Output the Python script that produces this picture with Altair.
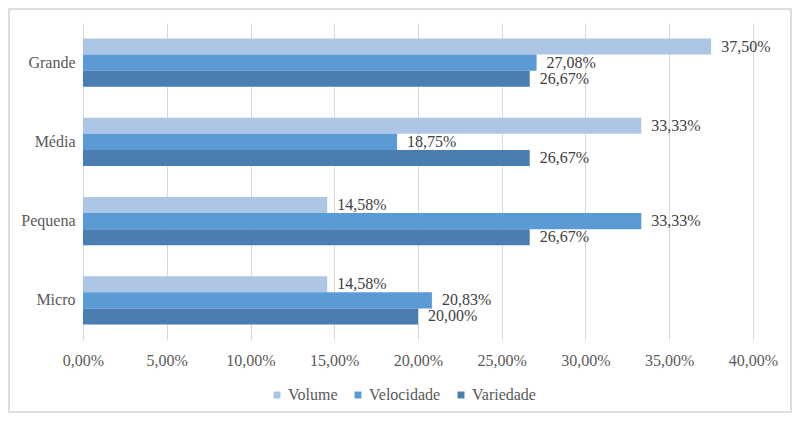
import altair as alt
import pandas as pd

categories = ["Grande", "Média", "Pequena", "Micro"]
series_names = ["Volume", "Velocidade", "Variedade"]
volume = [0.3750, 0.3333, 0.1458, 0.1458]
velocidade = [0.2708, 0.1875, 0.3333, 0.2083]
variedade = [0.2667, 0.2667, 0.2667, 0.2000]
colors = ["#aec6e6", "#5b9bd5", "#4a7eb0"]
x_ticks = [0, 0.05, 0.10, 0.15, 0.20, 0.25, 0.30, 0.35, 0.40]

rows = []
for s, vals in zip(series_names, [volume, velocidade, variedade]):
    for c, v in zip(categories, vals):
        rows.append({"cat": c, "series": s, "val": v,
                     "label": f"{v*100:.2f}%".replace(".", ",")})
df = pd.DataFrame(rows)

FONT = "'Liberation Serif', 'Times New Roman', 'DejaVu Serif', serif"

base = alt.Chart(df)

y = alt.Y("cat:N", sort=categories,
          scale=alt.Scale(paddingInner=0.394, paddingOuter=0.197),
          axis=alt.Axis(title=None, domain=False, ticks=False, labelPadding=8,
                        labelFontSize=16, labelFont=FONT, labelColor="#595959"))
x = alt.X("val:Q", scale=alt.Scale(domain=[0, 0.4], nice=False),
          axis=alt.Axis(title=None, values=x_ticks, domain=False, ticks=False,
                        grid=True, gridColor="#d9d9d9", gridWidth=1,
                        labelExpr="replace(format(datum.value, '.2%'), '.', ',')",
                        labelPadding=12, labelFontSize=16, labelFont=FONT,
                        labelColor="#595959", labelFlush=False))
yoff = alt.YOffset("series:N", sort=series_names,
                   scale=alt.Scale(domain=series_names, paddingInner=0, paddingOuter=0))

bars = base.mark_bar().encode(
    x=x, y=y, yOffset=yoff,
    color=alt.Color("series:N", sort=series_names,
                    scale=alt.Scale(domain=series_names, range=colors),
                    legend=alt.Legend(title=None, orient="none", legendX=186, legendY=364,
                                      direction="horizontal", symbolType="square",
                                      symbolSize=49, symbolStrokeWidth=0,
                                      labelFontSize=16, labelFont=FONT,
                                      labelColor="#595959", columnPadding=12,
                                      labelOffset=3, padding=0)),
)

texts = base.mark_text(align="left", baseline="middle", dx=10, font=FONT,
                       fontSize=16, color="#404040").encode(
    x="val:Q", y=alt.Y("cat:N", sort=categories), yOffset=yoff, text="label:N"
)

border = alt.Chart(pd.DataFrame({"b": [0]})).mark_rect(
    fillOpacity=0, stroke="#d4d4d4", strokeWidth=1.5
).encode(
    x=alt.value(-74), x2=alt.value(708), y=alt.value(-14), y2=alt.value(389)
)

chart = alt.layer(bars, texts, border).properties(
    width=670, height=317,
    autosize=alt.AutoSizeParams(type="none"),
    padding={"left": 75, "top": 15, "right": 39, "bottom": 73},
).configure_view(strokeWidth=0)

chart.save("out.html", embed_options={"renderer": "svg", "actions": False})
